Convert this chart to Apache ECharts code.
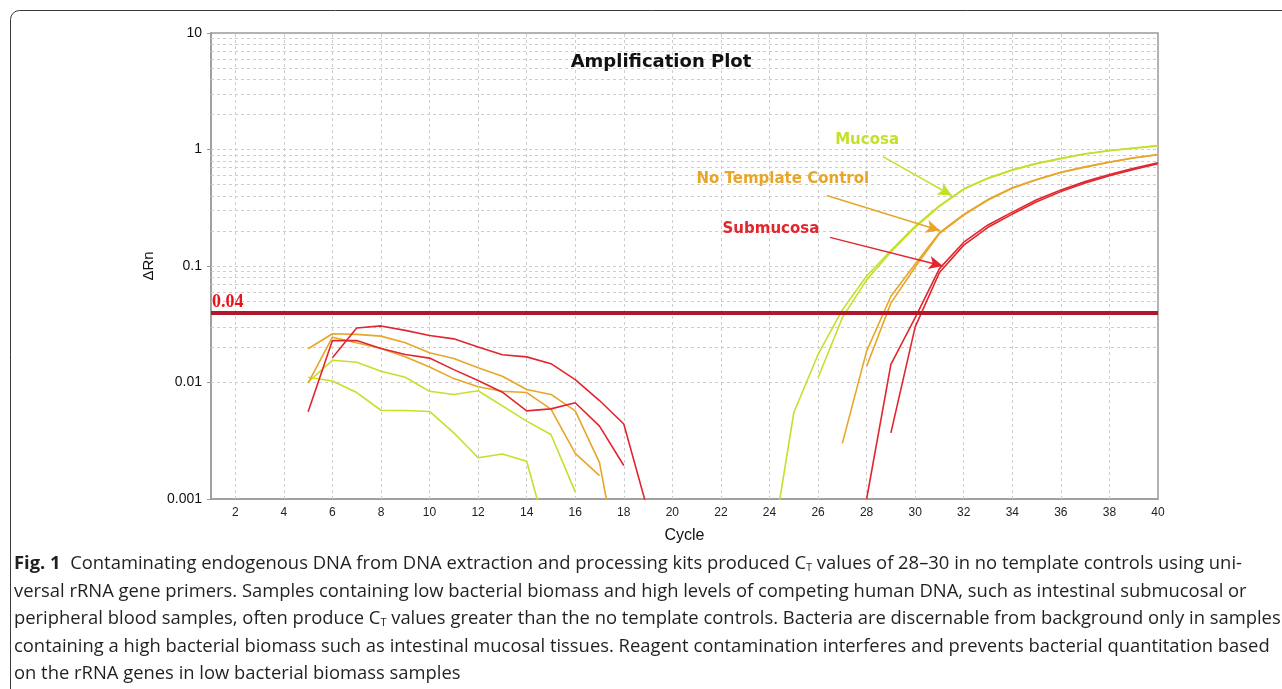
<!DOCTYPE html>
<html>
<head>
<meta charset="utf-8">
<title>Amplification Plot</title>
<style>
	html, body { margin: 0; padding: 0; background: #fff; }
	#main { width: 1282px; height: 689px; }
</style>
</head>
<body>
<div id="main"></div>
<script src="https://cdn.jsdelivr.net/npm/echarts@6/dist/echarts.min.js"></script>
<script>
// cycles of the baseline part and of the rising part
var earlyCycles = [5, 6, 7, 8, 9, 10, 11, 12, 13, 14, 15, 16, 17, 18, 19];
var lateCycles = [24, 25, 26, 27, 28, 29, 30, 31, 32, 33, 34, 35, 36, 37, 38, 39, 40];

// baseline noise (cycles 5-19)
var mucosaEarlyA = [0.0101, 0.0155, 0.0149, 0.0125, 0.0111, 0.0084, 0.0079, 0.0085, 0.0063, 0.00466, 0.00358, 0.00115, null, null, null];
var mucosaEarlyB = [0.0111, 0.0103, 0.0082, 0.00578, 0.00575, 0.00564, 0.0037, 0.00226, 0.00243, 0.00211, 0.00037, null, null, null, null];
var ntcEarlyA = [0.0195, 0.0262, 0.0259, 0.0250, 0.0219, 0.018, 0.0161, 0.0134, 0.0113, 0.0087, 0.0079, 0.0057, 0.00205, 0.00016, null];
var ntcEarlyB = [0.0099, 0.0245, 0.0219, 0.0196, 0.0166, 0.0136, 0.0108, 0.0092, 0.0084, 0.0082, 0.0059, 0.00246, 0.00159, null, null];
var subEarlyA = [null, 0.0163, 0.0294, 0.0306, 0.028, 0.0253, 0.0237, 0.0202, 0.0173, 0.0166, 0.0145, 0.0106, 0.0070, 0.0044, 0.00078];
var subEarlyB = [0.0056, 0.0229, 0.0229, 0.0196, 0.0174, 0.0162, 0.0129, 0.0104, 0.00826, 0.00571, 0.00594, 0.0067, 0.00422, 0.00194, null];

// amplification (cycles 24-40)
var mucosaLateA = [0.00028, 0.0055, 0.0174, 0.042, 0.082, 0.136, 0.22, 0.33, 0.46, 0.57, 0.67, 0.76, 0.84, 0.92, 0.98, 1.03, 1.08];
var mucosaLateB = [null, null, 0.011, 0.036, 0.076, 0.132, 0.215, 0.325, 0.455, 0.565, 0.665, 0.755, 0.835, 0.915, 0.975, 1.025, 1.075];
var ntcLateA = [null, null, null, 0.003, 0.0186, 0.055, 0.104, 0.193, 0.277, 0.372, 0.469, 0.553, 0.638, 0.71, 0.78, 0.85, 0.906];
var ntcLateB = [null, null, null, null, 0.0138, 0.048, 0.098, 0.19, 0.274, 0.368, 0.465, 0.55, 0.634, 0.706, 0.777, 0.846, 0.9];
var subLateA = [null, null, null, null, 0.001, 0.0143, 0.036, 0.095, 0.16, 0.225, 0.29, 0.37, 0.45, 0.53, 0.61, 0.69, 0.77];
var subLateB = [null, null, null, null, null, 0.0037, 0.030, 0.088, 0.151, 0.215, 0.279, 0.356, 0.435, 0.515, 0.595, 0.675, 0.755];

var threshold = 0.04;
var xGridTicks = [2, 4, 6, 8, 10, 12, 14, 16, 18, 20, 22, 24, 26, 28, 30, 32, 34, 36, 38];
var decades = [0.001, 0.01, 0.1, 1];

var green = '#c6df2a',
	orange = '#e7a628',
	red = '#e2262d';

var captionLines = [
	'{b|Fig. 1}  Contaminating endogenous DNA from DNA extraction and processing kits produced C{s|T} values of 28–30 in no template controls using uni-',
	'versal rRNA gene primers. Samples containing low bacterial biomass and high levels of competing human DNA, such as intestinal submucosal or',
	'peripheral blood samples, often produce C{s|T} values greater than the no template controls. Bacteria are discernable from background only in samples',
	'containing a high bacterial biomass such as intestinal mucosal tissues. Reagent contamination interferes and prevents bacterial quantitation based',
	'on the rRNA genes in low bacterial biomass samples'
];

function pairs(cycles, values) {
	var out = [];
	for (var i = 0; i < cycles.length; i++) {
		if (values[i] != null) out.push([cycles[i], values[i]]);
	}
	return out;
}

function curve(name, cycles, values, color) {
	return {
		name: name,
		type: 'line',
		data: pairs(cycles, values),
		symbol: 'none',
		clip: true,
		z: 3,
		lineStyle: { color: color, width: 1.6 },
		itemStyle: { color: color }
	};
}

// dashed grid, log minor lines included
function gridSeries() {
	var lines = [];
	for (var i = 0; i < xGridTicks.length; i++) {
		lines.push({ xAxis: xGridTicks[i] });
	}
	for (var d = 0; d < decades.length; d++) {
		for (var k = 1; k <= 9; k++) {
			if (k === 1 && d === 0) continue;
			lines.push({ yAxis: +(decades[d] * k).toPrecision(3) });
		}
	}
	return {
		type: 'line',
		data: [],
		markLine: {
			silent: true,
			symbol: 'none',
			z: 1,
			label: { show: false },
			lineStyle: { color: '#cdcdcd', type: [3, 3], width: 1 },
			data: lines
		}
	};
}

function arrow(from, to, color) {
	return [
		{ coord: from, symbol: 'none', lineStyle: { color: color, width: 1.5, type: 'solid' } },
		{ coord: to, symbol: 'arrow', symbolSize: [10, 14] }
	];
}

function initChart() {
	var myChart = echarts.init(document.getElementById('main'));

	var series = [
		gridSeries(),
		curve('Mucosa', earlyCycles, mucosaEarlyA, green),
		curve('Mucosa', earlyCycles, mucosaEarlyB, green),
		curve('Mucosa', lateCycles, mucosaLateA, green),
		curve('Mucosa', lateCycles, mucosaLateB, green),
		curve('No Template Control', earlyCycles, ntcEarlyA, orange),
		curve('No Template Control', earlyCycles, ntcEarlyB, orange),
		curve('No Template Control', lateCycles, ntcLateA, orange),
		curve('No Template Control', lateCycles, ntcLateB, orange),
		curve('Submucosa', earlyCycles, subEarlyA, red),
		curve('Submucosa', earlyCycles, subEarlyB, red),
		curve('Submucosa', lateCycles, subLateA, red),
		curve('Submucosa', lateCycles, subLateB, red),
		{
			// threshold, labels and arrows
			type: 'line',
			data: [],
			z: 4,
			markLine: {
				silent: true,
				z: 4,
				symbol: 'none',
				data: [
					{
						yAxis: threshold,
						lineStyle: { color: '#b3182a', width: 4, type: 'solid' },
						label: {
							show: true,
							position: 'insideStartTop',
							formatter: '0.04',
							distance: [1, 1],
							color: '#e8141c',
							fontFamily: 'Liberation Serif',
							fontWeight: 'bold',
							fontSize: 18
						}
					},
					arrow([28.67, 0.87], [31.51, 0.403], green),
					arrow([26.36, 0.403], [31.02, 0.202], orange),
					arrow([26.49, 0.176], [31.14, 0.1], red)
				],
				label: { show: false }
			},
			markPoint: {
				silent: true,
				symbol: 'circle',
				symbolSize: 0,
				label: {
					show: true,
					position: 'inside',
					formatter: '{b}',
					fontFamily: 'DejaVu Sans',
					fontWeight: 'bold',
					fontSize: 15
				},
				data: [
					{ name: 'Mucosa', coord: [28.02, 1.195], label: { color: green } },
					{ name: 'No Template Control', coord: [24.55, 0.553], label: { color: orange } },
					{ name: 'Submucosa', coord: [24.06, 0.206], label: { color: red } }
				]
			}
		}
	];

	var graphics = [{
		type: 'rect',
		shape: { x: 10.5, y: 10.5, width: 1320, height: 720, r: 9 },
		style: { fill: 'none', stroke: '#3a3a3a', lineWidth: 1 },
		silent: true
	}];
	for (var i = 0; i < captionLines.length; i++) {
		graphics.push({
			type: 'text',
			x: 14,
			y: 564 + i * 27.5,
			silent: true,
			style: {
				text: captionLines[i],
				fontFamily: 'Open Sans',
				fontSize: 18.4,
				fill: '#231f20',
				verticalAlign: 'middle',
				rich: {
					b: { fontFamily: 'Open Sans', fontWeight: 'bold', fontSize: 18.4, fill: '#231f20' },
					s: { fontFamily: 'Open Sans', fontSize: 11, fill: '#231f20', verticalAlign: 'bottom' }
				}
			}
		});
	}

	var option = {
		animation: false,
		backgroundColor: '#fff',
		title: {
			text: 'Amplification Plot',
			left: 656,
			top: 48,
			textAlign: 'center',
			textStyle: { fontFamily: 'DejaVu Sans', fontWeight: 'bold', fontSize: 18, color: '#111' }
		},
		grid: {
			left: 211,
			right: 124,
			top: 33,
			bottom: 190,
			show: true,
			borderColor: '#9a9a9a',
			borderWidth: 1.5
		},
		xAxis: {
			type: 'value',
			min: 1,
			max: 40,
			interval: 1,
			name: 'Cycle',
			nameLocation: 'middle',
			nameGap: 29,
			nameTextStyle: { fontFamily: 'Liberation Sans', fontSize: 16, color: '#111' },
			axisLine: { lineStyle: { color: '#9a9a9a', width: 1.5 } },
			axisTick: { show: false },
			splitLine: { show: false },
			axisLabel: {
				margin: 8,
				fontFamily: 'Liberation Sans',
				fontSize: 12,
				color: '#222',
				formatter: function(v) {
					return v % 2 === 0 ? String(v) : '';
				}
			}
		},
		yAxis: {
			type: 'log',
			logBase: 10,
			min: 0.001,
			max: 10,
			name: 'ΔRn',
			nameLocation: 'middle',
			nameGap: 54,
			nameTextStyle: { fontFamily: 'Liberation Sans', fontSize: 15, color: '#111' },
			axisLine: { show: true, lineStyle: { color: '#9a9a9a', width: 1.5 } },
			axisTick: { show: true, length: 4, lineStyle: { color: '#9a9a9a' } },
			splitLine: { show: false },
			axisLabel: {
				margin: 9,
				fontFamily: 'Liberation Sans',
				fontSize: 14,
				color: '#111'
			}
		},
		graphic: graphics,
		series: series
	};

	myChart.setOption(option);
}

initChart();
</script>
</body>
</html>
